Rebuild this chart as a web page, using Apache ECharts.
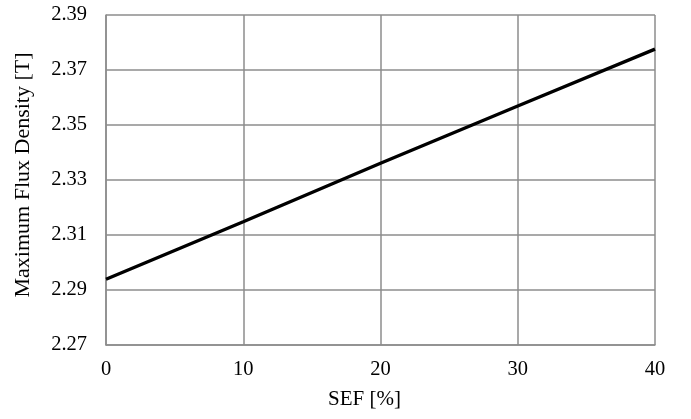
<!DOCTYPE html>
<html>
<head>
<meta charset="utf-8">
<script src="https://cdn.jsdelivr.net/npm/echarts@6/dist/echarts.min.js"></script>
<style>html,body{margin:0;padding:0;background:#fff}#c{width:691px;height:419px}</style>
</head>
<body>
<div id="c"></div>
<script>
var sef = [0, 10, 20, 30, 40];
var fluxDensity = [2.2939, 2.3148, 2.3361, 2.3569, 2.3776];
var yTicks = { min: 2.27, max: 2.39, interval: 0.02 };
var xTicks = { min: 0, max: 40, interval: 10 };

var font = 'Liberation Serif, Times New Roman, serif';
var chart = echarts.init(document.getElementById('c'));
chart.setOption({
  animation: false,
  grid: { left: 106, right: 36, top: 15, bottom: 74 },
  xAxis: {
    type: 'value', min: xTicks.min, max: xTicks.max, interval: xTicks.interval,
    name: 'SEF [%]', nameLocation: 'middle', nameGap: 44,
    nameTextStyle: { fontFamily: font, fontSize: 21, color: '#000', padding: [0, 32, 0, 0] },
    axisLine: { show: true, lineStyle: { color: '#8c8c8c', width: 1.5 } },
    axisTick: { show: false },
    axisLabel: { fontFamily: font, fontSize: 20.5, color: '#000', margin: 14 },
    splitLine: { show: true, lineStyle: { color: '#8c8c8c', width: 1.5 } }
  },
  yAxis: {
    type: 'value', min: yTicks.min, max: yTicks.max, interval: yTicks.interval,
    name: 'Maximum Flux Density [T]', nameLocation: 'middle', nameGap: 72,
    nameTextStyle: { fontFamily: font, fontSize: 22, color: '#000', padding: [0, 0, 0, 10] },
    axisLine: { show: true, lineStyle: { color: '#8c8c8c', width: 1.5 } },
    axisTick: { show: false },
    axisLabel: { fontFamily: font, fontSize: 20.5, color: '#000', margin: 19,
      formatter: function (v) { return v.toFixed(2); } },
    splitLine: { show: true, lineStyle: { color: '#8c8c8c', width: 1.5 } }
  },
  series: [{
    type: 'line',
    data: sef.map(function (x, i) { return [x, fluxDensity[i]]; }),
    showSymbol: false,
    lineStyle: { color: '#000', width: 3.4 }
  }]
});
</script>
</body>
</html>
